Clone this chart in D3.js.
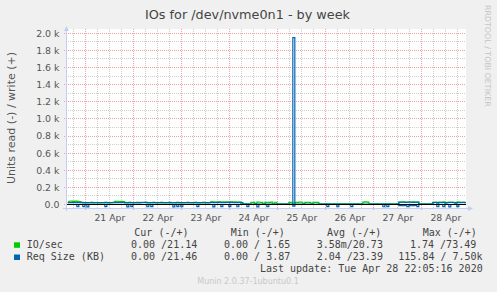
<!DOCTYPE html>
<html><head><meta charset="utf-8">
<script src="https://cdn.jsdelivr.net/npm/d3@7"></script>
<style>html,body{margin:0;padding:0;background:#f0f0f0;}svg{display:block}</style>
</head><body><svg id="c" width="497" height="292"></svg>
<script>
// ---------- data ----------
const chartTitle = "IOs for /dev/nvme0n1 - by week";
const yAxisLabel = "Units read (-) / write (+)";
const yTickValues = [0,200,400,600,800,1000,1200,1400,1600,1800,2000];
const yTickLabels = ["0.0","0.2 k","0.4 k","0.6 k","0.8 k","1.0 k","1.2 k","1.4 k","1.6 k","1.8 k","2.0 k"];
const dayLabels = ["21 Apr","22 Apr","23 Apr","24 Apr","25 Apr","26 Apr","27 Apr","28 Apr"];
const lastUpdate = "Last update: Tue Apr 28 22:05:16 2020";
const footer = "Munin 2.0.37-1ubuntu0.1";
const sideText = "RRDTOOL / TOBI OETIKER";
const legendHeader = ["Cur (-/+)","Min (-/+)","Avg (-/+)","Max (-/+)"];
const seriesNames = ["IO/sec","Req Size (KB)"];
const seriesColors = ["#00cc00","#0066b3"];
const ioStats  = ["0.00 /21.14","0.00 / 1.65","3.58m/20.73","1.74 /73.49"];
const reqStats = ["0.00 /21.46","0.00 / 3.87","2.04 /23.39","115.84 / 7.50k"];

// hourly samples, first at 2020-04-20 15:00 UTC
const ioWrite = [
 22,38,40,36,39,37,35,21,20,
 19,20,21,20,19,21,20,19,20,21,20,19,20,22,21,36,38,34,37,33,20,19,20,21,
 20,21,19,20,24,26,25,20,19,21,20,19,20,21,20,19,20,21,20,19,21,20,19,20,
 20,19,21,20,19,20,21,20,19,20,21,20,19,20,21,30,32,29,31,30,28,31,30,29,
 30,31,29,30,28,27,9,8,7,8,9,26,25,8,27,26,25,8,24,26,25,27,8,26,
 8,7,8,9,8,7,25,26,8,24,25,27,26,8,25,26,24,8,26,25,24,8,7,8,
 7,8,7,8,9,7,8,7,8,7,8,9,7,8,7,8,7,8,9,28,30,27,8,7,
 8,7,8,9,7,8,7,8,9,8,7,8,9,28,29,30,28,29,27,28,30,29,28,8,
 8,7,8,9,7,8,24,26,8,25,24,27,8,26,25,24,26,8,25,27,24,26,21];
const ioRead = [
 0,0,0,0,0,0,0,0,0,
 0,0,0,0,0,0,0,0,0,0,0,0,0,0,0,0,0,0,0,0,0,0,0,0,
 0,0,0,0,0,0,0,0,0,0,0,0,0,0,0,0,0,0,0,0,0,0,0,0,
 0,0,0,0,0,0,0,0,0,0,0,0,0,0,0,0,0,0,0,0,0,0,0,0,
 0,0,0,0,0,0,0,0,0,0,0,0,0,0,0,0,0,0,0,0,0,0,0,0,
 0,0,0,0,0,0,0,0,1,0,0,0,0,0,0,0,0,0,0,0,0,0,0,0,
 0,0,0,0,0,0,0,0,0,0,0,0,0,0,0,0,0,0,0,0,0,0,0,0,
 0,0,0,0,0,0,0,0,0,0,0,0,0,0,0,0,0,0,0,0,0,0,0,0,
 0,0,0,0,0,0,0,0,0,0,0,0,0,0,0,0,0,0,0,0,0,0,0];
const reqWrite = [
 24,23,23,24,23,22,23,24,23,
 23,22,23,24,23,22,23,23,22,23,24,23,22,23,24,23,22,23,24,23,22,23,24,23,
 22,23,24,23,22,23,24,23,22,23,24,23,22,23,24,23,22,23,24,23,22,23,24,23,
 23,22,23,24,23,22,23,24,23,22,23,24,23,22,23,24,23,22,23,24,23,22,23,24,
 23,24,23,22,23,24,23,4,5,4,3,5,4,6,4,5,4,3,5,4,6,4,5,4,
 4,5,4,3,5,4,6,4,1950,4,5,4,3,5,4,6,4,5,4,3,5,4,6,4,
 4,5,4,3,5,4,6,4,5,4,3,5,4,6,4,5,4,3,5,4,6,4,5,4,
 4,5,4,3,5,4,6,4,5,4,3,5,4,26,27,26,25,26,27,26,25,26,27,4,
 4,5,4,3,5,4,23,24,22,25,23,24,22,23,25,24,22,23,24,23,22,24,21];
const reqRead = [
 0,0,0,0,0,26,0,0,24,
 0,27,0,0,0,0,0,0,0,0,25,0,0,0,0,0,0,0,0,0,0,28,0,24,
 0,0,0,0,0,0,0,26,0,25,0,0,0,0,0,0,0,0,0,0,27,0,24,0,
 26,0,0,0,0,0,0,0,25,0,0,0,0,0,0,0,27,0,0,0,24,0,0,0,
 25,0,0,0,26,0,0,0,0,24,0,0,0,0,27,0,0,0,0,25,0,0,0,0,
 0,0,0,0,0,0,0,0,20,0,0,0,0,0,0,0,0,0,0,0,0,0,0,0,
 0,24,0,0,0,0,26,0,0,0,0,0,0,25,0,0,0,0,0,0,0,0,0,0,
 0,0,0,0,0,26,0,24,0,0,0,0,0,12,13,12,11,25,12,13,12,11,25,0,
 0,0,0,0,0,0,0,0,26,0,0,25,0,0,27,0,0,0,24,0,0,0,0];

// ---------- layout ----------
const W = 497, H = 292;
const L = 66, R = 466, T = 29, B = 209;
const endTime = Date.UTC(2020,3,28,22,5,16);
const startTime = endTime - 720000*1000;
const firstSample = Date.UTC(2020,3,20,15,0,0);
const HOUR = 3600*1000;

const svg = d3.select("#c");
const x = d3.scaleUtc().domain([startTime, endTime]).range([L, R]);
const y = d3.scaleLinear().domain([0, 2000]).range([204.5, 33.3]);
const px = v => Math.floor(v) + 0.5;

svg.append("rect").attr("width", W).attr("height", H).attr("fill", "#f0f0f0");
svg.append("rect").attr("x", L).attr("y", T).attr("width", R - L).attr("height", B - T).attr("fill", "#ffffff");

// grid
const g = svg.append("g");
const minorX = d3.utcHour.every(6).range(new Date(startTime), new Date(endTime));
g.selectAll("line.vx").data(minorX.filter(d => d.getUTCHours() !== 0)).join("line")
  .attr("x1", d => px(x(d))).attr("x2", d => px(x(d))).attr("y1", T).attr("y2", B)
  .attr("stroke", "#cfcfcf").attr("stroke-dasharray", "1,1");
const yMinor = d3.range(100, 2001, 200);
g.selectAll("line.hy").data(yMinor).join("line")
  .attr("x1", L).attr("x2", R).attr("y1", d => px(y(d))).attr("y2", d => px(y(d)))
  .attr("stroke", "#cfcfcf").attr("stroke-dasharray", "1,1");
const days = d3.utcDay.range(new Date(startTime), new Date(endTime));
g.selectAll("line.mx").data(days).join("line")
  .attr("x1", d => px(x(d))).attr("x2", d => px(x(d))).attr("y1", T).attr("y2", B + 2)
  .attr("stroke", "#f0a0a0").attr("stroke-dasharray", "1,1");
g.selectAll("line.my").data(yTickValues).join("line")
  .attr("x1", L - 2).attr("x2", R).attr("y1", d => px(y(d))).attr("y2", d => px(y(d)))
  .attr("stroke", "#f0a0a0").attr("stroke-dasharray", "1,1");

// series
svg.append("clipPath").attr("id", "clip").append("rect")
  .attr("x", L).attr("y", T).attr("width", R - L).attr("height", B - T);
const toPts = (arr, sign) => arr.map((v, i) => ({t: firstSample + i * HOUR, v: sign * v}));
const line = d3.line().x(d => x(d.t)).y(d => y(d.v)).curve(d3.curveStep);
const plot = svg.append("g").attr("clip-path", "url(#clip)");
[[ioWrite, 1, 0], [ioRead, -1, 0], [reqWrite, 1, 1], [reqRead, -1, 1]].forEach(([arr, s, c]) => {
  plot.append("path").datum(toPts(arr, s)).attr("d", line)
    .attr("fill", "none").attr("stroke", seriesColors[c]).attr("stroke-width", 1.2);
});
plot.append("line").attr("x1", L).attr("x2", R).attr("y1", px(y(0))).attr("y2", px(y(0)))
  .attr("stroke", "#000").attr("stroke-width", 1);

// axes
const axisCol = "#c4cdf2";
svg.append("line").attr("x1", 66.5).attr("x2", 66.5).attr("y1", B + 2).attr("y2", 29).attr("stroke", axisCol);
svg.append("path").attr("d", "M64,31 L66.5,26 L69,31 Z").attr("fill", axisCol);
svg.append("line").attr("x1", 63).attr("x2", 469).attr("y1", 208.5).attr("y2", 208.5).attr("stroke", axisCol);
svg.append("path").attr("d", "M468,206 L473,208.5 L468,211 Z").attr("fill", axisCol);

// tick labels
const tickFont = "DejaVu Sans";
svg.selectAll("text.yt").data(yTickValues).join("text")
  .attr("x", 59.5).attr("y", d => y(d) + 3.4).attr("text-anchor", "end")
  .attr("font-family", tickFont).attr("font-size", 9.4).attr("fill", "#555")
  .text((d, i) => yTickLabels[i]);
svg.selectAll("text.xt").data(days).join("text")
  .attr("x", d => x(d3.utcHour.offset(d, 12))).attr("y", 221).attr("text-anchor", "middle")
  .attr("font-family", tickFont).attr("font-size", 9.3).attr("fill", "#555")
  .text((d, i) => dayLabels[i]);

// title & labels
svg.append("text").attr("x", 247.5).attr("y", 19).attr("text-anchor", "middle")
  .attr("font-family", tickFont).attr("font-size", 12.8).attr("fill", "#444").text(chartTitle);
svg.append("text").attr("transform", "translate(15,118) rotate(-90)").attr("text-anchor", "middle")
  .attr("font-family", tickFont).attr("font-size", 11).attr("fill", "#555").text(yAxisLabel);
svg.append("text").attr("transform", "translate(485,5) rotate(90)").attr("text-anchor", "start")
  .attr("font-family", tickFont).attr("font-size", 7.9).attr("fill", "#c4c4c4").text(sideText);
svg.append("text").attr("x", 248).attr("y", 284).attr("text-anchor", "middle")
  .attr("font-family", tickFont).attr("font-size", 8).attr("fill", "#c8c8c8").text(footer);

// legend
const mono = "DejaVu Sans Mono";
const lg = svg.append("g").attr("font-family", mono).attr("font-size", 10).attr("fill", "#444")
  .attr("style", "white-space:pre");
const headX = [134.3, 230.7, 327, 422.7];
legendHeader.forEach((t, i) => lg.append("text").attr("x", headX[i]).attr("y", 235.5).text(t));
const rowY = [247.5, 259.7];
const statX = [[131, 224, 316.7, 410], [131, 224, 316.7, 398.3]];
[ioStats, reqStats].forEach((stats, r) => {
  lg.append("rect").attr("x", 14).attr("y", rowY[r] - 5.2).attr("width", 6).attr("height", 5.5).attr("fill", seriesColors[r]);
  lg.append("text").attr("x", 26.7).attr("y", rowY[r]).text(seriesNames[r]);
  stats.forEach((s, i) => lg.append("text").attr("x", statX[r][i]).attr("y", rowY[r]).text(s));
});
lg.append("text").attr("x", 482.7).attr("y", 271.5).attr("text-anchor", "end").text(lastUpdate);
</script></body></html>
